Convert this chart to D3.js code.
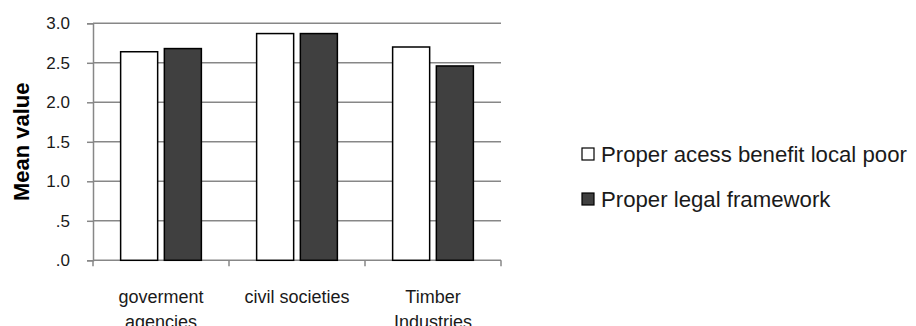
<!DOCTYPE html>
<html>
<head>
<meta charset="utf-8">
<script src="https://cdn.jsdelivr.net/npm/d3@7"></script>
<style>
  html, body { margin: 0; padding: 0; background: #fff; }
  svg { display: block; font-family: "Liberation Sans", Arial, sans-serif; }
</style>
</head>
<body>
<svg id="chart" width="916" height="326"></svg>
<script>
// Categories (each label may wrap onto two lines)
const categories = ["goverment agencies", "civil societies", "Timber Industries"];
const categoryLines = [["goverment", "agencies"], ["civil societies"], ["Timber", "Industries"]];

// Series
const seriesNames = ["Proper acess benefit local poor", "Proper legal framework"];
const accessValues = [2.64, 2.87, 2.70];
const legalValues = [2.68, 2.87, 2.46];

// Y axis ticks and their printed labels
const yTickValues = [0, 0.5, 1.0, 1.5, 2.0, 2.5, 3.0];
const yTickLabels = [".0", ".5", "1.0", "1.5", "2.0", "2.5", "3.0"];

const seriesFill = ["#ffffff", "#404040"];
const gridColor = "#878787";

const svg = d3.select("#chart");
const plot = { left: 93, right: 501, top: 23.3, bottom: 260.3 };

const x0 = d3.scaleBand().domain(categories).range([plot.left, plot.right]).padding(0);
const x1 = d3.scaleBand().domain(seriesNames).range([0, x0.bandwidth()])
  .paddingInner(0.153).paddingOuter(0.632);
const y = d3.scaleLinear().domain([0, 3]).range([plot.bottom, plot.top]);

// Horizontal gridlines
svg.append("g")
  .selectAll("line")
  .data(yTickValues.filter(v => v > 0))
  .join("line")
  .attr("x1", plot.left).attr("x2", plot.right)
  .attr("y1", d => y(d)).attr("y2", d => y(d))
  .attr("stroke", gridColor).attr("stroke-width", 1.5);

// Y axis
const yAxis = d3.axisLeft(y)
  .tickValues(yTickValues)
  .tickFormat((d, i) => yTickLabels[i])
  .tickSize(6).tickPadding(17);
const gy = svg.append("g").attr("transform", `translate(${plot.left},0)`).call(yAxis);
gy.select(".domain").attr("stroke", gridColor).attr("stroke-width", 1.5);
gy.selectAll(".tick line").attr("stroke", gridColor).attr("stroke-width", 1.5);
gy.selectAll(".tick text")
  .attr("fill", "#1a1a1a")
  .style("font-size", "17px")
  .style("font-family", "'Liberation Sans', Arial, sans-serif");

// X axis with ticks at category boundaries
const boundaries = categories.map(c => x0(c)).concat([plot.right]);
const gx = svg.append("g");
gx.append("line")
  .attr("x1", plot.left).attr("x2", plot.right)
  .attr("y1", plot.bottom).attr("y2", plot.bottom)
  .attr("stroke", gridColor).attr("stroke-width", 1.5);
gx.selectAll("line.tk")
  .data(boundaries)
  .join("line").attr("class", "tk")
  .attr("x1", d => d).attr("x2", d => d)
  .attr("y1", plot.bottom).attr("y2", plot.bottom + 6)
  .attr("stroke", gridColor).attr("stroke-width", 1.5);

// Category labels
const catLabels = svg.append("g")
  .selectAll("text")
  .data(categories)
  .join("text")
  .attr("text-anchor", "middle")
  .attr("fill", "#1a1a1a")
  .style("font-size", "18px");
catLabels.each(function(c, i) {
  const cx = x0(c) + x0.bandwidth() / 2;
  d3.select(this).selectAll("tspan")
    .data(categoryLines[i])
    .join("tspan")
    .attr("x", cx)
    .attr("y", (d, j) => 302.5 + j * 25)
    .text(d => d);
});

// Bars
const barData = categories.map((c, i) => ({
  category: c,
  values: [accessValues[i], legalValues[i]]
}));
const groups = svg.append("g")
  .selectAll("g")
  .data(barData)
  .join("g")
  .attr("transform", d => `translate(${x0(d.category)},0)`);
groups.selectAll("rect")
  .data(d => d.values.map((v, k) => ({ name: seriesNames[k], value: v, k })))
  .join("rect")
  .attr("x", d => x1(d.name))
  .attr("width", x1.bandwidth())
  .attr("y", d => y(d.value))
  .attr("height", d => y(0) - y(d.value))
  .attr("fill", d => seriesFill[d.k])
  .attr("stroke", "#000")
  .attr("stroke-width", 1.5);

// Y axis title
svg.append("text")
  .attr("transform", `translate(29,${(plot.top + plot.bottom) / 2}) rotate(-90)`)
  .attr("text-anchor", "middle")
  .attr("fill", "#000")
  .style("font-size", "22px")
  .style("font-weight", "bold")
  .text("Mean value");

// Legend
const legend = svg.append("g")
  .selectAll("g")
  .data(seriesNames)
  .join("g")
  .attr("transform", (d, i) => `translate(582,${148 + i * 45})`);
legend.append("rect")
  .attr("width", 12).attr("height", 12)
  .attr("fill", (d, i) => seriesFill[i])
  .attr("stroke", "#000").attr("stroke-width", 1.2);
legend.append("text")
  .attr("x", 19).attr("y", 14)
  .attr("fill", "#1a1a1a")
  .style("font-size", "22.2px")
  .text(d => d);
</script>
</body>
</html>
